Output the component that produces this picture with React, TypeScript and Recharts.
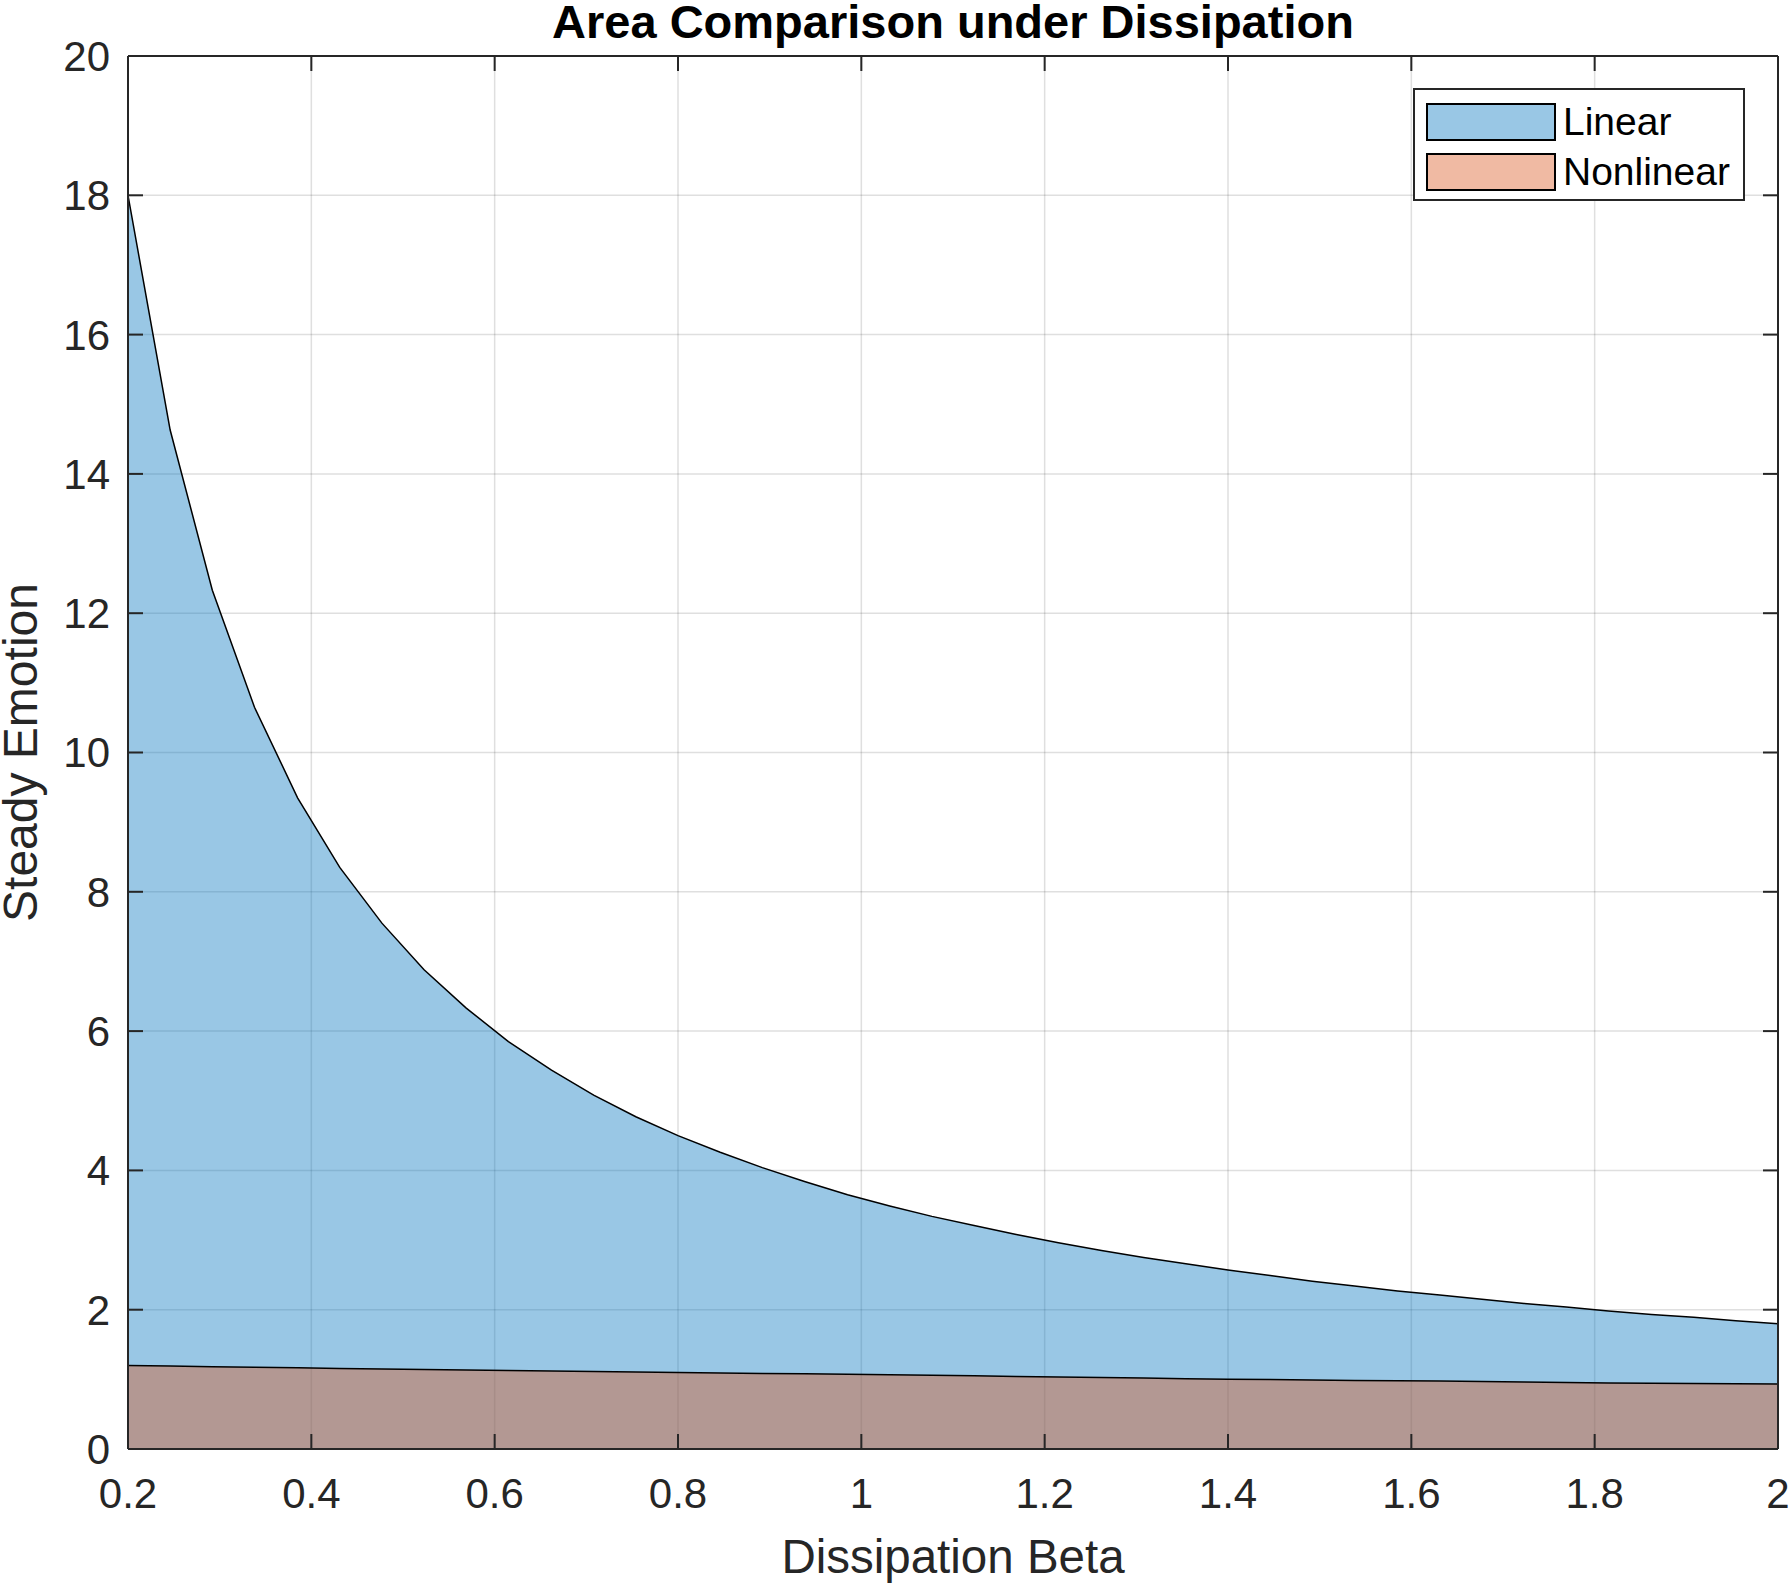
import React from "react";
import { ComposedChart, Area, XAxis, YAxis, CartesianGrid, Legend, Label } from "recharts";

// values (40 samples between 0.2 and 2)
const betaValues = [
  0.2, 0.246, 0.292, 0.338, 0.385, 0.431, 0.477, 0.523, 0.569, 0.615, 0.662, 0.708, 0.754, 0.8, 0.846,
  0.892, 0.938, 0.985, 1.031, 1.077, 1.123, 1.169, 1.215, 1.262, 1.308, 1.354, 1.4, 1.446, 1.492, 1.538,
  1.585, 1.631, 1.677, 1.723, 1.769, 1.815, 1.862, 1.908, 1.954, 2.0,
];
const linearValues = [
  18.0, 14.63, 12.33, 10.65, 9.35, 8.35, 7.55, 6.88, 6.33, 5.85, 5.44, 5.08, 4.77, 4.5, 4.26, 4.04, 3.84,
  3.65, 3.49, 3.34, 3.21, 3.08, 2.96, 2.85, 2.75, 2.66, 2.57, 2.49, 2.41, 2.34, 2.27, 2.21, 2.15, 2.09,
  2.04, 1.98, 1.93, 1.89, 1.84, 1.8,
];
const nonlinearValues = [
  1.2, 1.191, 1.182, 1.173, 1.165, 1.157, 1.149, 1.141, 1.133, 1.126, 1.119, 1.112, 1.105, 1.099, 1.092,
  1.085, 1.079, 1.072, 1.065, 1.058, 1.05, 1.042, 1.034, 1.026, 1.018, 1.01, 1.003, 0.997, 0.991, 0.985,
  0.98, 0.975, 0.969, 0.963, 0.956, 0.949, 0.945, 0.941, 0.938, 0.935,
];
const xTicks = [0.2, 0.4, 0.6, 0.8, 1, 1.2, 1.4, 1.6, 1.8, 2];
const yTicks = [0, 2, 4, 6, 8, 10, 12, 14, 16, 18, 20];

const SERIES = [
  { key: "linear", name: "Linear", color: "#0072BD", swatch: "#99C7E5" },
  { key: "nonlinear", name: "Nonlinear", color: "#D95319", swatch: "#F0BAA3" },
];

const FONT = '"Liberation Sans", Arial, Helvetica, sans-serif';
const AXIS_COLOR = "#262626";

const data = betaValues.map((b, i) => ({ beta: b, linear: linearValues[i], nonlinear: nonlinearValues[i] }));

function LegendBox() {
  return (
    <div
      style={{
        width: 332,
        height: 113,
        boxSizing: "border-box",
        border: `2px solid ${AXIS_COLOR}`,
        background: "#fff",
        padding: "13px 0 0 11px",
        fontFamily: FONT,
        fontSize: 39,
      }}
    >
      {SERIES.map((s, i) => (
        <div key={s.key} style={{ display: "flex", alignItems: "flex-start", height: 38, marginBottom: i === 0 ? 12 : 0 }}>
          <div style={{ width: 130, height: 38, boxSizing: "border-box", border: "2px solid #000", background: s.swatch }} />
          <span style={{ marginLeft: 7, color: "#000", lineHeight: "38px", whiteSpace: "nowrap" }}>{s.name}</span>
        </div>
      ))}
    </div>
  );
}

export default function App() {
  const tickStyle = { fill: AXIS_COLOR, fontSize: 42, fontFamily: FONT };
  const lineStyle = { stroke: AXIS_COLOR, strokeWidth: 2 };

  return (
    <div style={{ position: "absolute", left: 0, top: 0, background: "#fff" }}>
      <ComposedChart width={1792} height={1584} data={data} margin={{ top: 55, right: 13, bottom: 35, left: 18 }}>
        <CartesianGrid xAxisId="bottom" yAxisId="left" stroke={AXIS_COLOR} strokeOpacity={0.15} strokeWidth={1.5} />
        <XAxis
          xAxisId="bottom"
          dataKey="beta"
          type="number"
          domain={[0.2, 2]}
          ticks={xTicks}
          interval={0}
          allowDataOverflow
          height={100}
          tick={tickStyle}
          tickSize={-15}
          tickMargin={44}
          axisLine={lineStyle}
          tickLine={lineStyle}
        >
          <Label
            content={(p: any) => (
              <text
                x={p.viewBox.x + p.viewBox.width / 2}
                y={p.viewBox.y + 124}
                textAnchor="middle"
                fontFamily={FONT}
                fontSize={47.5}
                fill={AXIS_COLOR}
              >
                Dissipation Beta
              </text>
            )}
          />
        </XAxis>
        <XAxis
          xAxisId="top"
          orientation="top"
          dataKey="beta"
          type="number"
          domain={[0.2, 2]}
          ticks={xTicks}
          interval={0}
          allowDataOverflow
          height={1}
          tickFormatter={() => ""}
          tickSize={-15}
          axisLine={lineStyle}
          tickLine={lineStyle}
        >
          <Label
            content={(p: any) => (
              <text
                x={p.viewBox.x + p.viewBox.width / 2}
                y={p.viewBox.y - 17}
                textAnchor="middle"
                fontFamily={FONT}
                fontSize={47}
                fontWeight="bold"
                fill="#000"
              >
                Area Comparison under Dissipation
              </text>
            )}
          />
        </XAxis>
        <YAxis
          yAxisId="left"
          type="number"
          domain={[0, 20]}
          ticks={yTicks}
          interval={0}
          allowDataOverflow
          width={110}
          tick={tickStyle}
          tickSize={-15}
          tickMargin={33}
          axisLine={lineStyle}
          tickLine={lineStyle}
        >
          <Label
            content={(p: any) => {
              const cx = 37;
              const cy = p.viewBox.y + p.viewBox.height / 2;
              return (
                <text
                  x={cx}
                  y={cy}
                  transform={`rotate(-90, ${cx}, ${cy})`}
                  textAnchor="middle"
                  fontFamily={FONT}
                  fontSize={48}
                  fill={AXIS_COLOR}
                >
                  Steady Emotion
                </text>
              );
            }}
          />
        </YAxis>
        <YAxis
          yAxisId="right"
          orientation="right"
          type="number"
          domain={[0, 20]}
          ticks={yTicks}
          interval={0}
          allowDataOverflow
          width={1}
          tickFormatter={() => ""}
          tickSize={-15}
          axisLine={lineStyle}
          tickLine={lineStyle}
        />
        {SERIES.map((s) => (
          <Area
            key={s.key}
            xAxisId="bottom"
            yAxisId="left"
            type="linear"
            dataKey={s.key}
            name={s.name}
            fill={s.color}
            fillOpacity={0.4}
            stroke="#000"
            strokeWidth={1.5}
            dot={false}
            activeDot={false}
            isAnimationActive={false}
          />
        ))}
        <Legend
          layout="vertical"
          align="center"
          verticalAlign="middle"
          content={() => <LegendBox />}
          wrapperStyle={{ left: 1413, top: 88, width: 332, height: 113 }}
        />
      </ComposedChart>
    </div>
  );
}
